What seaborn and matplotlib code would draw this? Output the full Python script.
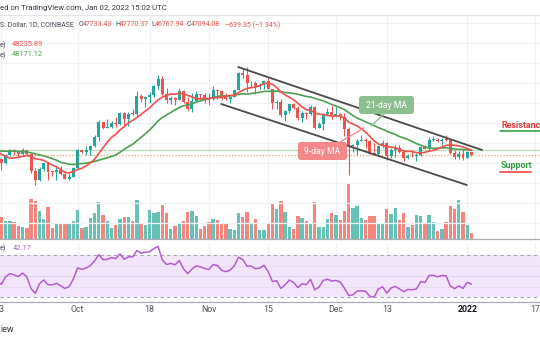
import numpy as np
import pandas as pd
import matplotlib
matplotlib.use("Agg")
import matplotlib.pyplot as plt
from matplotlib.transforms import IdentityTransform
from matplotlib.patches import FancyBboxPatch
from matplotlib.lines import Line2D
import seaborn as sns

# ---------------- data (BTC/USD, Coinbase, daily) ----------------
# closes before the visible window (needed only to warm up MA / RSI)
warmup_close = [39860, 39150, 38190, 39720, 40870, 42840, 44610, 43820, 46290, 45600,
                45560, 44430, 47830, 47100, 47050, 45990, 44690, 44710, 46760, 49340,
                48870, 49280, 49500, 47700, 48990, 46850, 49070, 48900, 48810, 46990,
                47150, 48850, 49280, 50030, 49940, 51790, 52700, 46860, 46070, 46400,
                44850, 45160, 46060]

start_date = "2021-09-13"
open_ = [46060, 44960, 47110, 48150, 47760, 47290, 48300, 47250, 43000, 40690,
         43570, 44880, 42830, 42700, 43180, 42200, 41030, 41520,
         43790, 48140, 47660, 48230, 49250, 51490, 55340, 53800, 53970, 54960,
         54690, 57480, 56000, 57370, 57350, 61670, 60880, 61530, 62010, 64280,
         66000, 62210, 60690, 61300, 60850, 63080, 60330, 58450, 60590, 62250, 61880,
         61320, 61000, 63230, 62940, 61450, 61010, 61530, 63320, 67560, 66940,
         64880, 64950, 64150, 64390, 65500, 63620, 60110, 60370, 56900, 58100,
         59730, 58710, 56290, 57570, 57160, 58960, 53730, 54720, 57280, 57800,
         56950, 57180, 56500, 53600, 49200, 49390, 50590, 50660, 50400, 47540,
         47140, 49370, 50100, 46710, 48360, 48860, 47640, 46190, 46850, 46680,
         46910, 48930, 48610, 50820, 50860, 50420, 50780, 50700, 47540, 46460,
         47130, 46210, 47733]
high = [46350, 47250, 48490, 48490, 48150, 48830, 48370, 47350, 43640, 44000,
        44990, 45150, 42980, 43920, 44350, 42780, 42600, 44100,
        48450, 48350, 49300, 49500, 51900, 55750, 55340, 56100, 55480, 56500,
        57840, 57680, 57700, 58530, 62900, 62350, 61700, 62650, 64480, 67000,
        66640, 63730, 61750, 61490, 63710, 63300, 61490, 62450, 62950, 62260, 62400,
        62430, 64250, 63500, 63130, 62600, 61580, 63320, 67800, 68550, 69000,
        65580, 65450, 64950, 65500, 66300, 63620, 60800, 60980, 58350, 59850,
        60050, 59300, 57880, 57800, 59400, 59180, 55300, 57400, 58850, 59200,
        59100, 57400, 57600, 53900, 49700, 50880, 51950, 51200, 50800, 50100,
        49450, 50750, 50200, 48700, 49500, 49450, 48000, 47350, 48300, 47550,
        49350, 49580, 51380, 51850, 51150, 51300, 52050, 50700, 48150, 47880,
        48550, 47940, 47770]
low = [43370, 44750, 46700, 47050, 46750, 47060, 46850, 42500, 39600, 40550,
       43080, 40700, 41680, 40800, 42100, 40900, 40750, 41420,
       43300, 47450, 47100, 46900, 49060, 50400, 53400, 53670, 53670, 54100,
       54450, 53900, 54250, 56900, 56850, 60200, 58950, 60100, 61400, 63500,
       62000, 60000, 59700, 59550, 60700, 59880, 58000, 57850, 60180, 60720, 60000,
       59600, 60650, 60950, 60700, 60800, 60100, 61400, 63150, 66350, 62800,
       64100, 62300, 63400, 63600, 63500, 58600, 58400, 56500, 55600, 57400,
       58500, 55650, 55300, 55950, 57000, 53600, 53650, 53350, 56700, 55900,
       56500, 55800, 51700, 42000, 47700, 47100, 50400, 48700, 47300, 46900,
       46700, 48700, 45700, 46300, 46550, 47550, 45500, 45950, 46450, 45580,
       46650, 48450, 48050, 50470, 50200, 49450, 50450, 47350, 46100, 45950,
       45700, 46200, 46768]
close = [44960, 47110, 48150, 47760, 47290, 48300, 47250, 43000, 40690, 43570,
         44880, 42830, 42700, 43180, 42200, 41030, 41520, 43790,
         48140, 47660, 48230, 49250, 51490, 55340, 53800, 53970, 54960, 54690,
         57480, 56000, 57370, 57350, 61670, 60880, 61530, 62010, 64280, 66000,
         62210, 60690, 61300, 60850, 63080, 60330, 58450, 60590, 62250, 61880, 61320,
         61000, 63230, 62940, 61450, 61010, 61530, 63320, 67560, 66940, 64880,
         64950, 64150, 64390, 65500, 63620, 60110, 60370, 56900, 58100, 59730,
         58710, 56290, 57570, 57160, 58960, 53730, 54720, 57280, 57800, 56950,
         57180, 56500, 53600, 49200, 49390, 50590, 50660, 50400, 47540, 47140,
         49370, 50100, 46710, 48360, 48860, 47640, 46190, 46850, 46680, 46910,
         48930, 48610, 50820, 50860, 50420, 50780, 50700, 47540, 46460, 47130,
         46210, 47730, 47094]
volume_k = [22, 18, 18, 17, 13, 12, 11, 40, 38, 28, 20, 32, 11, 15, 15, 16, 16, 18,
            29, 11, 12, 21, 26, 37, 24, 18, 11, 14, 20, 22, 22, 18, 39, 16, 14, 29,
            26, 27, 34, 26, 10, 13, 16, 18, 27, 28, 23, 10, 13,
            17, 20, 19, 16, 16, 10, 9, 26, 22, 27, 16, 20, 9, 9, 16, 36, 30, 38, 27,
            12, 10, 23, 21, 18, 16, 37, 12, 12, 20, 26,
            24, 19, 28, 56, 31, 33, 21, 19, 23, 23, 16, 16, 30, 25, 31, 19, 26, 12,
            14, 24, 23, 16, 24, 17, 8, 10, 17, 33, 30, 39, 27,
            14, 6]

tick_days = ["2021-09-13", "2021-10-01", "2021-10-18", "2021-11-01", "2021-11-15",
             "2021-12-01", "2021-12-13", "2022-01-01", "2022-01-17"]
tick_labels = ["13", "Oct", "18", "Nov", "15", "Dec", "13", "2022", "17"]

# drawn trend channel (day index, price)
channel_upper_x = [55.9, 113.5]
channel_upper_y = [69000, 48250]
channel_lower_x = [51.9, 109.9]
channel_lower_y = [59750, 39500]

header_title = "ed on TradingView.com, Jan 02, 2022 15:02 UTC"
symbol_text = "S. Dollar, 1D, COINBASE"
ohlc_labels = ["O", "H", "L", "C"]
ohlc_values = ["47733.43", "47770.37", "46767.94", "47094.08"]
change_text = "\u2212639.35 (\u22121.34%)"
ma9_text = "48235.89"
ma21_text = "48171.12"
rsi_text = "42.17"

# ---------------- styling ----------------
sns.set_theme(style="white")
plt.rcParams['font.family'] = ['Roboto', 'DejaVu Sans']

W, H = 540, 340
GREEN = "#26a69a"
RED = "#ef5350"
VGREEN = "#66c1b6"
VRED = "#f5857f"
MA9_C = "#f0514b"
MA21_C = "#4f9e52"
RSI_C = "#b45cd1"
GRID = "#eef1f6"
TXT = "#4a4d57"

def fx(x):
    return x / W

def fy(y):
    return 1 - y / H

n = len(close)
idx = np.arange(n)
tick_idx = [(pd.Timestamp(d) - pd.Timestamp(start_date)).days for d in tick_days]

all_close = pd.Series(warmup_close + close, dtype=float)
all_idx = np.arange(-len(warmup_close), n)
ma9 = all_close.rolling(9).mean()
ma21 = all_close.rolling(21).mean()
delta = all_close.diff()
gain = delta.clip(lower=0)
loss = -delta.clip(upper=0)
ag = gain.ewm(alpha=1 / 14, adjust=False).mean()
al = loss.ewm(alpha=1 / 14, adjust=False).mean()
rsi = 100 - 100 / (1 + ag / al)
ind = pd.DataFrame({"idx": all_idx, "ma9": ma9, "ma21": ma21, "rsi": rsi})
ind = ind[ind["idx"] >= -1]

o = np.array(open_, float); c = np.array(close, float)
h = np.array(high, float); l = np.array(low, float)
up = c >= o
cols = np.where(up, GREEN, RED)

# x mapping: 4.235 px per day, day 0 at x=1.4 px
px_per_day = 4.235
x0 = -1.4 / px_per_day
x1 = (W - 1.4) / px_per_day

fig = plt.figure(figsize=(W / 100, H / 100), dpi=100)
fig.patch.set_facecolor("white")

main_rect = [0, fy(239), 1, (239 - 15) / H]
axv = fig.add_axes(main_rect)
ax = axv.twinx()
ax.set_zorder(axv.get_zorder() + 1)
ax.patch.set_visible(False)
axv.set_facecolor("white")

rsi_rect = [0, fy(302), 1, (302 - 243) / H]
axr = fig.add_axes(rsi_rect)

for a in (ax, axv, axr):
    for s in a.spines.values():
        s.set_visible(False)

# grid
for ti in tick_idx:
    axv.axvline(ti, color=GRID, lw=0.9, zorder=0)
    axr.axvline(ti, color=GRID, lw=0.9, zorder=0)
for p in range(30000, 85000, 5000):
    ax.axhline(p, color=GRID, lw=0.9, zorder=0)

# volume (overlay at bottom of price pane)
vol_df = pd.DataFrame({"idx": idx, "volume": volume_k,
                       "dir": np.where(up, "up", "down")})
sns.barplot(data=vol_df, x="idx", y="volume", hue="dir",
            palette={"up": VGREEN, "down": VRED}, native_scale=True,
            dodge=False, width=0.8, errorbar=None, saturation=1,
            legend=False, ax=axv, linewidth=0)
axv.set_ylim(0, 224)

# price lines for last values
ax.axhline(48171.12, color="#b9dfb9", lw=0.9, zorder=1)
ax.axhline(close[-1], color="#f0a070", lw=0.9, ls=(0, (1, 1.5)), zorder=1)

# candles
ax.vlines(idx, l, h, colors=cols, lw=0.8, zorder=3)
ax.bar(idx, np.maximum(np.abs(c - o), 180), bottom=np.minimum(o, c), width=0.7,
       color=cols, linewidth=0, zorder=4)

# moving averages
sns.lineplot(data=ind, x="idx", y="ma21", ax=ax, color=MA21_C, lw=1.2, zorder=5)
sns.lineplot(data=ind, x="idx", y="ma9", ax=ax, color=MA9_C, lw=1.2, zorder=6)

# channel
ax.plot(channel_upper_x, channel_upper_y, color="#4a4a4a", lw=1.3, zorder=7)
ax.plot(channel_lower_x, channel_lower_y, color="#4a4a4a", lw=1.3, zorder=7)

ax.set_ylim(26000, 82000)
ax.set_xlim(x0, x1)
axv.set_xlim(x0, x1)

# RSI
axr.axhspan(30, 70, color="#f3e6fc", zorder=0, lw=0)
for v in (40, 60):
    axr.axhline(v, color="#e6ddf0", lw=0.7, zorder=1)
axr.axhline(50, color="#ddd3ea", lw=0.7, zorder=1)
for v in (30, 70):
    axr.axhline(v, color="#a3a5ad", lw=0.8, ls=(0, (3, 3)), zorder=1)
sns.lineplot(data=ind, x="idx", y="rsi", ax=axr, color=RSI_C, lw=1.1, zorder=3)
axr.set_ylim(25.24, 81.43)
axr.set_xlim(x0, x1)

for a in (ax, axv, axr):
    a.set_xlabel(""); a.set_ylabel("")
    a.tick_params(left=False, right=False, bottom=False, top=False,
                  labelleft=False, labelright=False, labelbottom=False)

# separators
for yy, col in ((15, "#e3e6ec"), (239, "#a9acb4"), (302, "#a9acb4")):
    fig.add_artist(Line2D([0, 1], [fy(yy), fy(yy)], transform=fig.transFigure,
                          color=col, lw=0.9))

# time axis labels
for ti, lab in zip(tick_idx, tick_labels):
    xp = 1.4 + ti * px_per_day
    if ti == 0:
        fig.text(fx(3.5), fy(310), "3", ha="right", va="center", fontsize=6.3,
                 color="#50535e")
        continue
    fig.text(fx(xp), fy(310), lab, ha="center", va="center", fontsize=6.3,
             color="#131722" if lab == "2022" else "#50535e",
             fontweight="bold" if lab == "2022" else "normal")

# header / legends
fig.text(0, fy(8), header_title, ha="left", va="center", fontsize=5.6, color="#333640")
fs = 5.0
fig.text(0, fy(25), symbol_text, ha="left", va="center", fontsize=fs, color=TXT)
lab_w = {"O": 4.6, "H": 4.6, "L": 3.7, "C": 4.4}
for lab, val, xl in zip(ohlc_labels, ohlc_values, [78.5, 115.5, 151.5, 186.5]):
    fig.text(fx(xl), fy(25), lab, ha="left", va="center", fontsize=fs, color=TXT)
    fig.text(fx(xl + lab_w[lab]), fy(25), val, ha="left",
             va="center", fontsize=fs, color=RED)
fig.text(fx(225), fy(25), change_text, ha="left", va="center", fontsize=fs, color=RED)

fs2 = 5.3
fig.text(0, fy(45), "e)", ha="left", va="center", fontsize=fs2, color=TXT)
fig.text(fx(12), fy(45), ma9_text, ha="left", va="center", fontsize=fs2, color=MA9_C)
fig.text(0, fy(55), "e)", ha="left", va="center", fontsize=fs2, color=TXT)
fig.text(fx(12), fy(55), ma21_text, ha="left", va="center", fontsize=fs2, color=MA21_C)
fig.text(0, fy(248), "e)", ha="left", va="center", fontsize=fs2, color=TXT)
fig.text(fx(12.5), fy(248), rsi_text, ha="left", va="center", fontsize=fs2, color=RSI_C)

fig.text(0, fy(330), "iew", ha="left", va="center", fontsize=6.5, color="#333640")

# MA callouts
ident = IdentityTransform()
def callout(x0p, y0p, w, hgt, color, text, line):
    box = FancyBboxPatch((x0p, H - y0p - hgt), w, hgt,
                         boxstyle="round,pad=0,rounding_size=3",
                         fc=color, ec="none", transform=ident, zorder=20)
    fig.add_artist(box)
    fig.add_artist(Line2D([line[0], line[2]], [H - line[1], H - line[3]],
                          transform=ident, color=color, lw=1.0, zorder=19))
    fig.text(fx(x0p + w / 2), fy(y0p + hgt / 2), text, ha="center", va="center",
             fontsize=6.2, color="white", zorder=21)

callout(359, 96, 55, 18, "#8cbf8e", "21-day MA", (384, 114, 371, 126))
callout(298, 142, 49, 18, "#f3878a", "9-day MA", (340, 142, 364, 128))

# support / resistance labels
fig.text(fx(501), fy(126), "Resistance", ha="left", va="center", fontsize=6.4,
         fontweight="bold", color="#e53935")
fig.add_artist(Line2D([fx(500), fx(540)], [fy(130.5), fy(130.5)],
                      transform=fig.transFigure, color="#3aa64a", lw=1.2))
fig.text(fx(501), fy(166), "Support", ha="left", va="center", fontsize=6.4,
         fontweight="bold", color="#2e9e44")
fig.add_artist(Line2D([fx(500), fx(531)], [fy(172), fy(172)],
                      transform=fig.transFigure, color="#ef4444", lw=1.2))

fig.savefig("out.png", dpi=100, facecolor="white")
